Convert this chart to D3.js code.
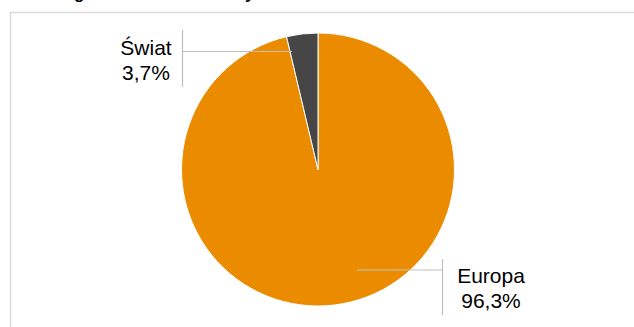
<!DOCTYPE html>
<html>
<head>
<meta charset="utf-8">
<script src="https://cdn.jsdelivr.net/npm/d3@7"></script>
<style>
  html, body { margin: 0; padding: 0; background: #fff; }
  svg { display: block; }
</style>
</head>
<body>
<svg id="chart" width="634" height="327"></svg>
<script>
// ---- data ----
const title = "Udział wg wartości obrotu w tym roku";
const categories = ["Europa", "Świat"];
const values = [96.3, 3.7];
const valueLabels = ["96,3%", "3,7%"];
const colors = ["#EB8C00", "#464646"];

// ---- layout ----
const W = 634, H = 327;
const cx = 318, cy = 169.5, R = 136.5;
const labelLayout = {
  "Świat":  { tx: 146, ty: 55, vx: 182.5, vy1: 30, vy2: 87, hy: 51.5, angle: -12.4, rf: 0.885 },
  "Europa": { tx: 491, ty: 283, vx: 442.5, vy1: 259, vy2: 315, hy: 270, angle: 158.8, rf: 0.79 }
};

const svg = d3.select("#chart");

// frame
svg.append("rect")
  .attr("x", 10.5).attr("y", 12.5)
  .attr("width", 700).attr("height", 400)
  .attr("fill", "none")
  .attr("stroke", "#d9d9d9")
  .attr("stroke-width", 1.5);

// title (cut off at the top, as in the reference: only descenders show)
svg.append("text")
  .attr("x", 6).attr("y", -1)
  .attr("font-family", "'Liberation Sans', Arial, sans-serif")
  .attr("font-weight", "bold")
  .attr("font-size", 17)
  .attr("fill", "#000")
  .text(title);

const data = categories.map((c, i) => ({ name: c, value: values[i], label: valueLabels[i], color: colors[i] }));

const pie = d3.pie().sort(null).value(d => d.value);
const arc = d3.arc().innerRadius(0).outerRadius(R);
const arcs = pie(data);

const g = svg.append("g").attr("transform", `translate(${cx},${cy})`);
g.selectAll("path")
  .data(arcs)
  .join("path")
  .attr("d", arc)
  .attr("fill", d => d.data.color)
  .attr("stroke", "#fff")
  .attr("stroke-width", 1);

// labels with leader lines
arcs.forEach(a => {
  const L = labelLayout[a.data.name];
  const ang = L.angle * Math.PI / 180;
  const ex = cx + Math.sin(ang) * R * L.rf;
  svg.append("line")
    .attr("x1", ex).attr("y1", L.hy)
    .attr("x2", L.vx).attr("y2", L.hy)
    .attr("stroke", "#bfbfbf").attr("stroke-width", 1.2);
  svg.append("line")
    .attr("x1", L.vx).attr("y1", L.vy1)
    .attr("x2", L.vx).attr("y2", L.vy2)
    .attr("stroke", "#bfbfbf").attr("stroke-width", 1.2);
  const t = svg.append("text")
    .attr("x", L.tx).attr("y", L.ty)
    .attr("text-anchor", "middle")
    .attr("font-family", "'Liberation Sans', Arial, sans-serif")
    .attr("font-size", 21)
    .attr("fill", "#000");
  t.append("tspan").attr("x", L.tx).attr("y", L.ty).text(a.data.name);
  t.append("tspan").attr("x", L.tx).attr("y", L.ty + 24.5).text(a.data.label);
});
</script>
</body>
</html>
